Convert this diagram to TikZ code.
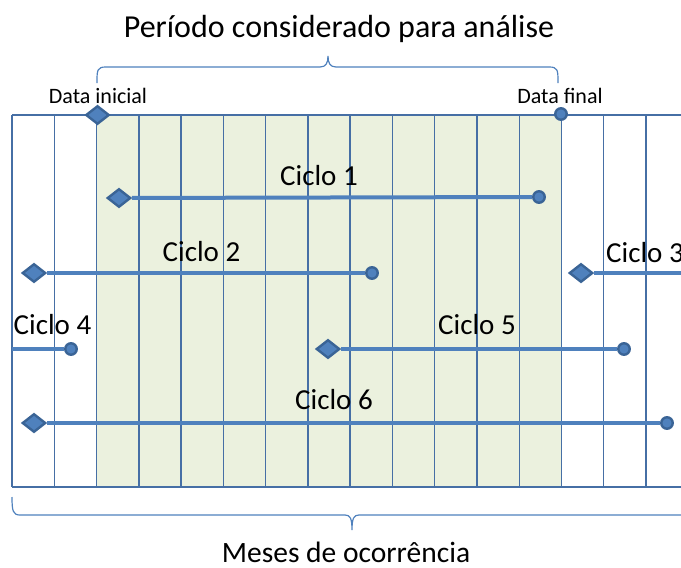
\documentclass[tikz,border=0pt]{standalone}
\usepackage{fontspec}
\setmainfont{Carlito}
\usetikzlibrary{shapes.geometric}
\definecolor{azul}{HTML}{4F81BD}
\definecolor{azulesc}{HTML}{3A6496}
\definecolor{verdeclaro}{HTML}{EBF1DE}
\definecolor{grade}{HTML}{466FA5}

\begin{document}
\begin{tikzpicture}[x=1pt,y=-1pt,
  ini/.style={draw=azulesc,shape=diamond,fill=azul,line width=2.4pt,inner sep=0pt,minimum width=23.5pt,minimum height=18.5pt},
  fim/.style={draw=azulesc,shape=circle,fill=azul,line width=2.4pt,inner sep=0pt,minimum size=11.5pt},
  rot/.style={anchor=base,inner sep=0pt,font=\fontsize{29}{32}\selectfont},
  data/.style={anchor=base,inner sep=0pt,font=\fontsize{22}{24}\selectfont},
  ciclo/.style={draw=azul,line width=4pt}]
  \useasboundingbox (0,0) rectangle (681,568);
  \clip (0,0) rectangle (681,568);
  \fill[verdeclaro] (96.5,115) rectangle (561.5,487);
  \foreach \k in {0,...,15}
    \draw[grade,line width=1.4pt] (12+42.27*\k,115) -- (12+42.27*\k,487);
  \draw[grade,line width=1.4pt] (12,115) -- (690,115) (12,487) -- (690,487);
  \draw[azul,line width=1.2pt] (97,83) .. controls (97,70) and (97,67) .. (106,67) -- (320,67)
    .. controls (326,67) and (328,63) .. (328,56) .. controls (328,63) and (330,67) .. (336,67)
    -- (549,67) .. controls (558,67) and (558,70) .. (558,83);
  \draw[azul,line width=1.2pt] (12,497) .. controls (12,511) and (13,515) .. (20,515) -- (345,515)
    .. controls (350,515) and (352,518) .. (352,530) .. controls (352,518) and (354,515) .. (359,515)
    -- (690,515);
  \node[rot,font=\fontsize{32}{35}\selectfont] (titulo) at (339,37) {Período considerado para análise};
  \node[rot,font=\fontsize{29.5}{32}\selectfont] (meses) at (346,562) {Meses de ocorrência};
  \path (97.5,115) node[ini] (dini) {} (561,114) node[fim] (dfim) {};
  \node[data] (tini) at (98,103) {Data inicial};
  \node[data] (tfim) at (560,103) {Data final};
  \path (119,198) node[ini] (i1) {} (539,197) node[fim] (f1) {}
    (34,273) node[ini] (i2) {} (372,273) node[fim] (f2) {}
    (581,273) node[ini] (i3) {}
    (71,349) node[fim] (f4) {}
    (328,349) node[ini] (i5) {} (624,349) node[fim] (f5) {}
    (34,423) node[ini] (i6) {} (667,423) node[fim] (f6) {};
  \coordinate (f3) at (690,273);
  \coordinate (i4) at (12,349);
  \draw[ciclo] (i1) -- (f1);
  \draw[ciclo] (i2) -- (f2);
  \draw[ciclo] (i3) -- (f3);
  \draw[ciclo] (i4) -- (f4);
  \draw[ciclo] (i5) -- (f5);
  \draw[ciclo] (i6) -- (f6);
  \node[rot] (c1) at (319,185) {Ciclo 1};
  \node[rot] (c2) at (201.5,261) {Ciclo 2};
  \node[rot,anchor=base west] (c3) at (606,262) {Ciclo 3};
  \node[rot] (c4) at (52.5,334) {Ciclo 4};
  \node[rot] (c5) at (477,334) {Ciclo 5};
  \node[rot] (c6) at (334,409) {Ciclo 6};
\end{tikzpicture}
\end{document}
